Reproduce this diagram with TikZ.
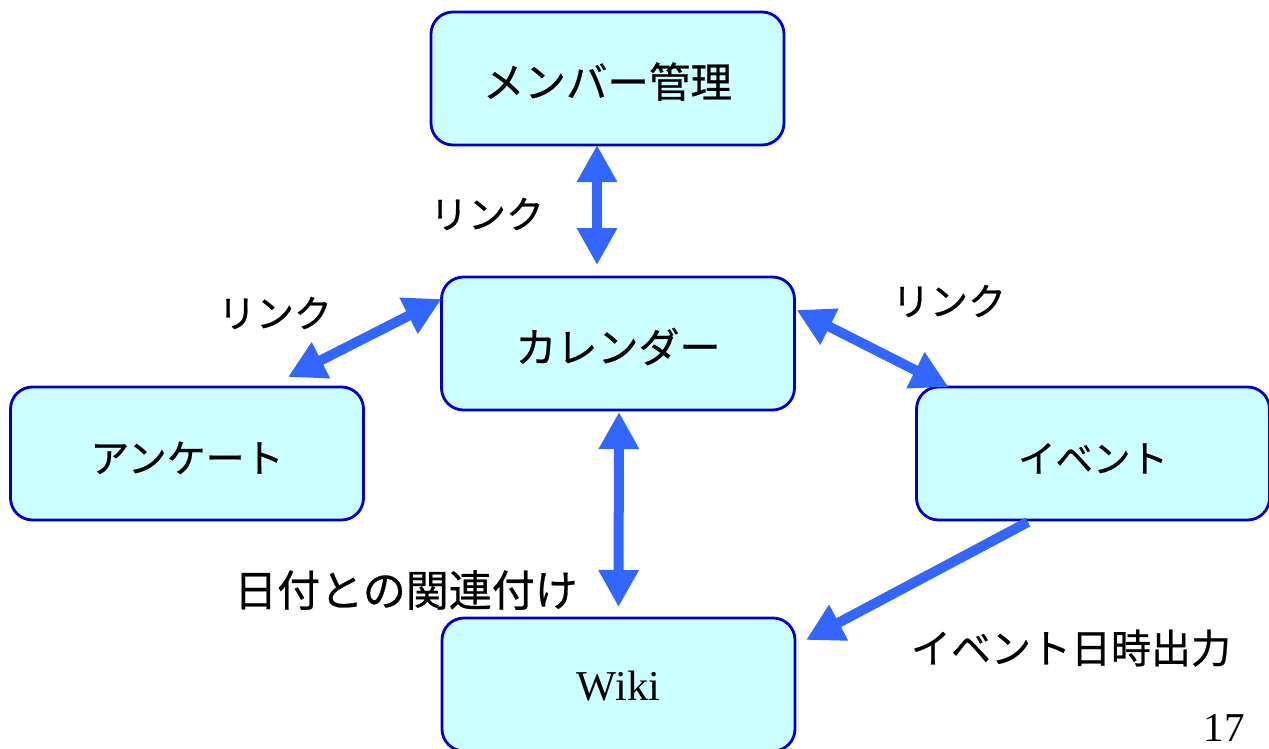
\documentclass[tikz,border=0pt]{standalone}
\usepackage{fontspec}
\setmainfont{Liberation Serif}
\newfontfamily\jp[FakeBold=0.6]{Noto Sans CJK JP}
\usetikzlibrary{arrows.meta,calc}
\definecolor{boxfill}{HTML}{CCFFFF}
\definecolor{boxline}{HTML}{0000CC}
\definecolor{arrowblue}{HTML}{3366FF}
\newcommand{\jpsize}[1]{\jp\fontsize{#1}{#1}\selectfont}
\tikzset{
  modbox/.style={draw=boxline, fill=boxfill, line width=2.8pt, rounded corners=22pt,
    minimum width=353pt, minimum height=133pt, inner sep=0pt, outer sep=0pt,
    text height=40pt, text depth=2pt},
  lbl/.style={inner sep=0pt},
  biarrow/.style={arrowblue, line width=10pt,
    {Triangle[length=37pt,width=38pt]}-{Triangle[length=37pt,width=38pt]}},
  onearrow/.style={arrowblue, line width=10pt, -{Triangle[length=37pt,width=38pt]}}
}
\begin{document}
\begin{tikzpicture}[x=1pt,y=-1pt]
\useasboundingbox (0,0) rectangle (1269,749);
\node[modbox, font=\jpsize{41.5}] (mem) at (607.5,78.5) {メンバー管理};
\node[modbox, font=\jpsize{41}] (cal) at (618,343.5) {カレンダー};
\node[modbox, font=\jpsize{39}] (ank) at (187,453.5) {アンケート};
\node[modbox, font=\jpsize{37.5}] (evt) at (1093,453.5) {イベント};
\node[modbox, font=\fontsize{42.5}{44}\selectfont, text height=32pt, text depth=0pt] (wiki) at (618.5,684.5) {Wiki};

\draw[biarrow] ([xshift=-10.5pt]mem.south) -- ([xshift=-21pt,yshift=12pt]cal.north);
\draw[biarrow] ([yshift=-22pt]cal.north west) -- ([xshift=101pt,yshift=10pt]ank.north);
\draw[biarrow] ([xshift=2pt,yshift=-33pt]cal.north east) -- ([xshift=32pt]evt.north west);
\draw[biarrow] ([xshift=1pt,yshift=-2pt]cal.south) -- ([yshift=11pt]wiki.north);
\draw[onearrow] ([xshift=-65pt,yshift=-2pt]evt.south) -- ([xshift=11pt,yshift=-22pt]wiki.north east);

\node[lbl, font=\jpsize{38}] (l1) at (487,214) {リンク};
\node[lbl, font=\jpsize{38}] (l2) at (275,313) {リンク};
\node[lbl, font=\jpsize{38}] (l3) at (949,301) {リンク};
\node[lbl, font=\jpsize{43}] (l4) at (406,590) {日付との関連付け};
\node[lbl, font=\jpsize{40}] (l5) at (1071,648) {イベント日時出力};
\node[font=\fontsize{41}{42}\selectfont, inner sep=0pt] (pg) at (1224,728) {17};
\end{tikzpicture}
\end{document}
